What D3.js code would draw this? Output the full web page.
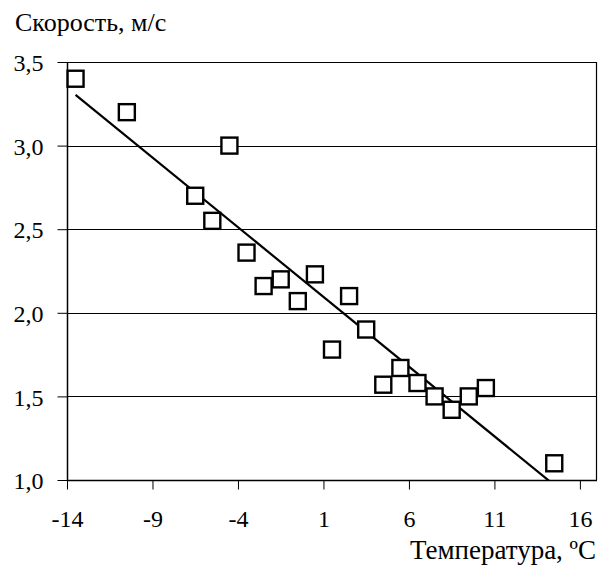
<!DOCTYPE html>
<html>
<head>
<meta charset="utf-8">
<script src="https://cdn.jsdelivr.net/npm/d3@7"></script>
</head>
<body style="margin:0;background:#fff;font-family:'Liberation Serif',serif">
<svg id="chart" width="603" height="567" style="display:block" font-family="Liberation Serif, serif">
  <text id="ytitle" x="15" y="31" font-size="26" style="font-family:'Liberation Serif',serif">Скорость, м/с</text>
  <text id="xtitle" x="596" y="559" font-size="27" text-anchor="end" style="font-family:'Liberation Serif',serif">Температура, ºC</text>
</svg>
<script>
"use strict";

// Temperature (ºC) and speed (m/s) readings
const temperature = [-13.5, -10.5, -6.5, -5.5, -4.5, -3.5, -2.5, -1.5, -0.5, 0.5, 1.5,
    2.5, 3.5, 4.5, 5.5, 6.5, 7.5, 8.5, 9.5, 10.5, 14.5];
const speed = [3.40, 3.20, 2.70, 2.55, 3.00, 2.36, 2.16, 2.20, 2.07, 2.23, 1.78,
    2.10, 1.90, 1.57, 1.67, 1.58, 1.50, 1.42, 1.50, 1.55, 1.10];

const xTicks = [-14, -9, -4, 1, 6, 11, 16];
const yTicks = [1.0, 1.5, 2.0, 2.5, 3.0, 3.5];

const FONT = "Liberation Serif, serif";

const width = 603, height = 567;
const margin = { top: 62, right: 6, bottom: 87, left: 67 };

const svg = d3.select("#chart");

const x = d3.scaleLinear().domain([-14, 17]).range([margin.left, width - margin.right]);
const y = d3.scaleLinear().domain([1, 3.5]).range([height - margin.bottom, margin.top]);

const fmt = d => d3.format(".1f")(d).replace(".", ",");

// gridlines
svg.append("g")
    .selectAll("line")
    .data(yTicks.filter(d => d > 1 && d < 3.5))
    .join("line")
    .attr("x1", x(-14)).attr("x2", x(17))
    .attr("y1", d => Math.round(y(d)) + 0.5).attr("y2", d => Math.round(y(d)) + 0.5)
    .attr("stroke", "#000").attr("stroke-width", 1);

// frame top/right
svg.append("path")
    .attr("d", `M${x(-14)},${y(3.5) + 0.5}H${Math.round(x(17)) - 0.5}V${y(1)}`)
    .attr("fill", "none").attr("stroke", "#000").attr("stroke-width", 1.2);

// axes
const xAxis = svg.append("g")
    .attr("transform", `translate(0,${Math.round(y(1)) + 0.5})`)
    .call(d3.axisBottom(x).tickValues(xTicks).tickSize(9).tickPadding(20).tickFormat(d => d));
const yAxis = svg.append("g")
    .attr("transform", `translate(${Math.round(x(-14)) + 0.5},0)`)
    .call(d3.axisLeft(y).tickValues(yTicks).tickSize(10).tickPadding(14).tickFormat(fmt));

[xAxis, yAxis].forEach(g => {
    g.attr("font-family", FONT).attr("font-size", 24);
    g.select(".domain").attr("stroke", "#000").attr("stroke-width", 1.5);
    g.selectAll(".tick line").attr("stroke", "#000").attr("stroke-width", 1);
    g.selectAll("text").attr("fill", "#000");
});
xAxis.select(".domain").attr("d", `M${x(-14)},0H${x(17)}`);
yAxis.select(".domain").attr("d", `M0,${y(1)}V${y(3.5)}`);
yAxis.selectAll("text").attr("dy", "0.36em");

// trend line (least squares), clipped to plot area
svg.append("clipPath").attr("id", "plot")
    .append("rect")
    .attr("x", x(-14)).attr("y", y(3.5))
    .attr("width", x(17) - x(-14)).attr("height", y(1) - y(3.5));

const mx = d3.mean(temperature), my = d3.mean(speed);
const slope = d3.sum(temperature, (t, i) => (t - mx) * (speed[i] - my)) /
    d3.sum(temperature, t => (t - mx) ** 2);
const fit = t => my + slope * (t - mx);
const ext = d3.extent(temperature);

svg.append("line")
    .attr("clip-path", "url(#plot)")
    .attr("x1", x(ext[0])).attr("y1", y(fit(ext[0])))
    .attr("x2", x(ext[1])).attr("y2", y(fit(ext[1])))
    .attr("stroke", "#000").attr("stroke-width", 2.2);

// markers
const s = 16;
svg.append("g")
    .selectAll("rect")
    .data(temperature)
    .join("rect")
    .attr("x", (t) => x(t) - s / 2)
    .attr("y", (t, i) => y(speed[i]) - s / 2)
    .attr("width", s).attr("height", s)
    .attr("fill", "#fff")
    .attr("stroke", "#000")
    .attr("stroke-width", 2.4);
</script>
</body>
</html>
